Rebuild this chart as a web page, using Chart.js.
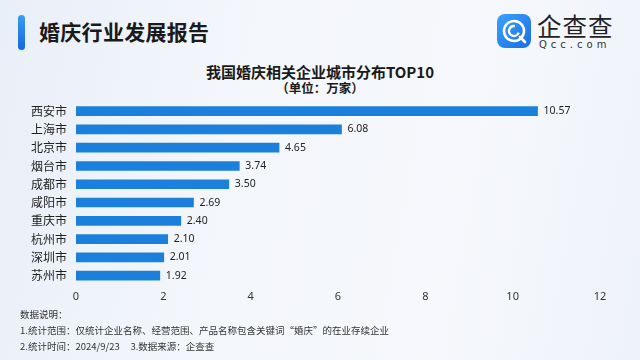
<!DOCTYPE html>
<html>
<head>
<meta charset="utf-8">
<script src="https://cdn.jsdelivr.net/npm/chart.js@4/dist/chart.umd.min.js"></script>
<style>
html,body{margin:0;padding:0;}
body{width:640px;height:360px;position:relative;overflow:hidden;
 background:linear-gradient(100deg,#e9eff8 0%,#f3f6fb 35%,#f6f8fc 70%,#eef2f9 100%);
 font-family:"Noto Sans CJK SC","Noto Sans",sans-serif;}
#c{position:absolute;left:0;top:0;}
.hbar{position:absolute;left:18px;top:15px;width:7px;height:35px;border-radius:4px;
 background:linear-gradient(180deg,#3b9cf5,#1567dc);}
.htitle{position:absolute;left:39px;top:16px;font-size:21px;font-weight:700;color:#1a1a1a;letter-spacing:0.3px;line-height:30px;}
.logo{position:absolute;left:497px;top:14px;width:34px;height:34px;border-radius:8px;
 background:linear-gradient(135deg,#3aa0ff,#1a6fe0);}
.lt{position:absolute;left:537px;top:11px;font-size:24.5px;color:#222;line-height:30px;letter-spacing:1px;}
.lu{position:absolute;left:539px;top:39px;font-size:10px;color:#333;letter-spacing:4px;font-family:"DejaVu Sans",sans-serif;line-height:12px;}
.ct{position:absolute;left:0;width:640px;text-align:center;font-weight:700;color:#1a1a1a;}
.note{position:absolute;left:20px;font-size:9.5px;color:#333;line-height:13px;white-space:pre;}
</style>
</head>
<body>
<div class="hbar"></div>
<div class="htitle">婚庆行业发展报告</div>
<div class="logo"><svg width="34" height="34" viewBox="0 0 34 34">
<circle cx="17" cy="17" r="10" fill="none" stroke="#fff" stroke-width="2.6"/>
<circle cx="17" cy="17" r="5" fill="none" stroke="#fff" stroke-width="2.4" stroke-dasharray="22 10" transform="rotate(20 17 17)"/>
<line x1="23" y1="23" x2="28" y2="28" stroke="#fff" stroke-width="2.6" stroke-linecap="round"/>
</svg></div>
<div class="lt">企查查</div>
<div class="lu">Qcc.com</div>
<div class="ct" style="top:61px;font-size:15px;line-height:21px;">我国婚庆相关企业城市分布TOP10</div>
<div class="ct" style="top:79px;font-size:12.5px;line-height:18px;">（单位：万家）</div>
<canvas id="c" width="640" height="360"></canvas>
<div class="note" style="top:308px;">数据说明：</div>
<div class="note" style="top:324px;">1.统计范围：仅统计企业名称、经营范围、产品名称包含关键词“婚庆”的在业存续企业</div>
<div class="note" style="top:340px;">2.统计时间：2024/9/23     3.数据来源：企查查</div>
<script>
const categories = ["西安市","上海市","北京市","烟台市","成都市","咸阳市","重庆市","杭州市","深圳市","苏州市"];
const values = [10.57,6.08,4.65,3.74,3.50,2.69,2.40,2.10,2.01,1.92];
const xTicks = [0,2,4,6,8,10,12];

const valueLabels = {
  id:'valueLabels',
  afterDatasetsDraw(chart){
    const ctx = chart.ctx;
    const meta = chart.getDatasetMeta(0);
    ctx.save();
    ctx.font = '10.5px "Noto Sans", sans-serif';
    ctx.fillStyle = '#222';
    ctx.textBaseline = 'middle';
    ctx.textAlign = 'left';
    meta.data.forEach((bar,i)=>{
      ctx.fillText(values[i].toFixed(2), bar.x + 6, bar.y);
    });
    ctx.restore();
  }
};

new Chart(document.getElementById('c'),{
  type:'bar',
  data:{labels:categories,datasets:[{data:values,backgroundColor:'#1a80db',barThickness:9}]},
  options:{
    indexAxis:'y',
    responsive:false,
    animation:false,
    layout:{padding:{left:0,right:40,top:102,bottom:52}},
    plugins:{legend:{display:false},tooltip:{enabled:false},title:{display:false}},
    scales:{
      x:{min:0,max:12,
        afterBuildTicks(s){s.ticks = xTicks.map(v=>({value:v}));},
        grid:{display:false,drawTicks:false},border:{display:false},
        ticks:{padding:5,color:'#333',font:{size:11,family:'"Noto Sans", sans-serif'},maxRotation:0}
      },
      y:{
        afterFit(s){s.width = 76;},
        grid:{display:false,drawTicks:false},border:{display:false},
        ticks:{padding:9,color:'#222',font:{size:12,family:'"Noto Sans CJK SC", sans-serif'}}
      }
    }
  },
  plugins:[valueLabels]
});
</script>
</body>
</html>
